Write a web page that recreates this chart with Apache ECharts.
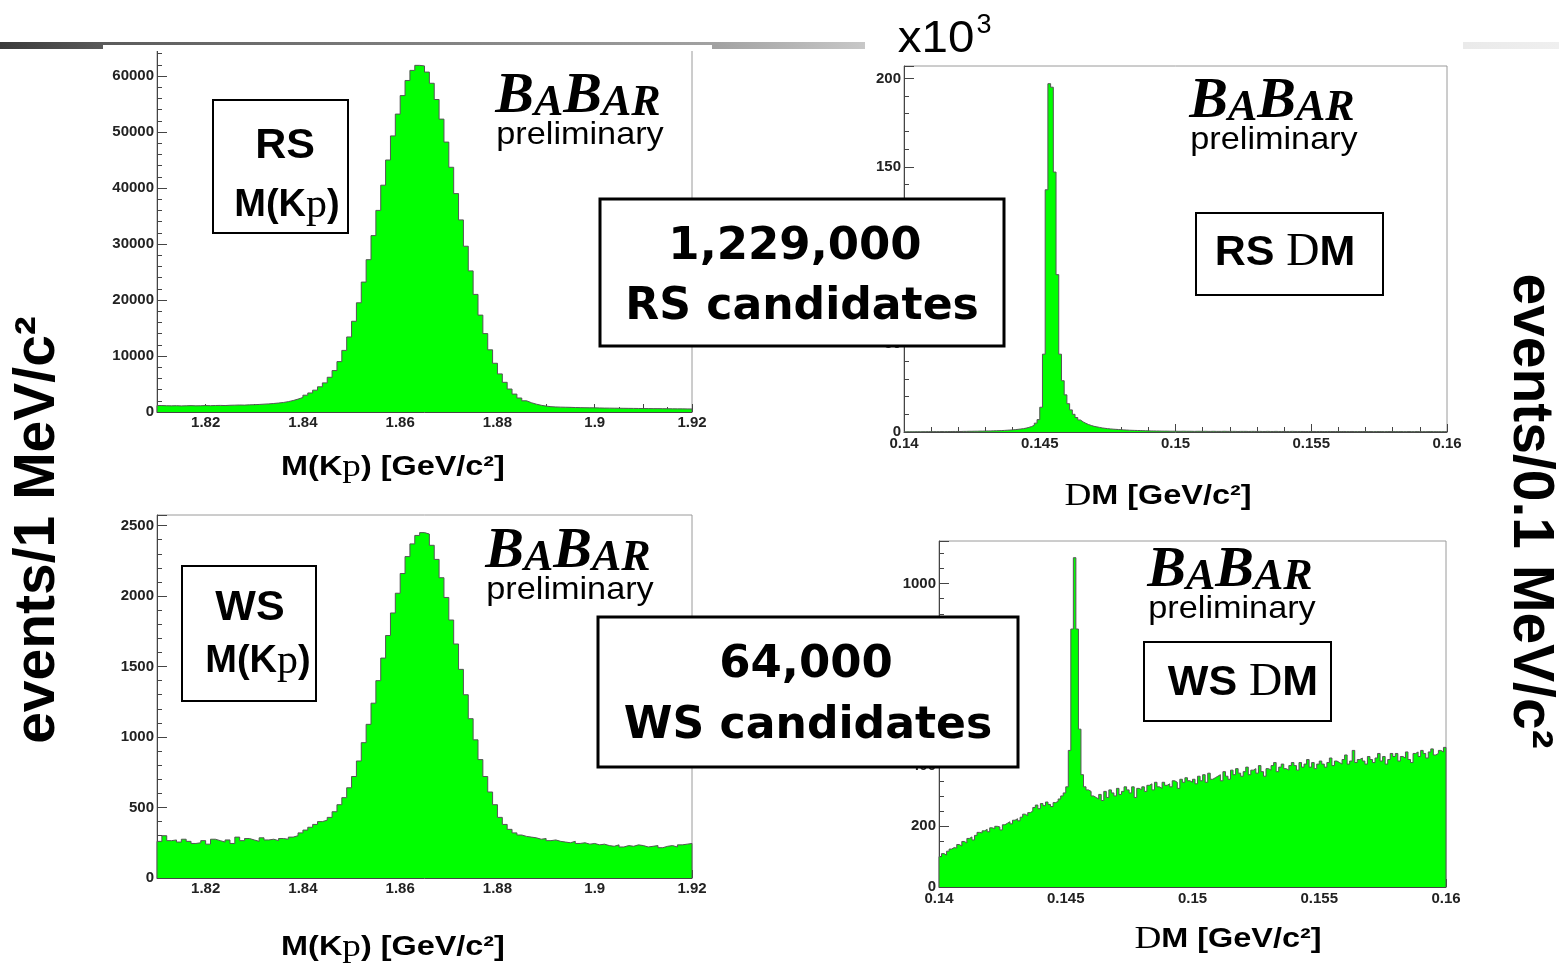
<!DOCTYPE html>
<html><head><meta charset="utf-8">
<script src="https://cdn.jsdelivr.net/npm/echarts@6/dist/echarts.min.js"></script>
<style>html,body{margin:0;padding:0;background:#fff}#c{width:1559px;height:970px}</style>
</head><body><div id="c"></div>
<script>
// ---------- data ----------
const MASS_MIN = 1.81, MASS_MAX = 1.92, MASS_BIN = 0.001;
const DM_MIN = 0.14, DM_MAX = 0.16, DM_BIN = 0.0001;
const massTickLabels = [1.82, 1.84, 1.86, 1.88, 1.9, 1.92];
const dmTickLabels = [0.14, 0.145, 0.15, 0.155, 0.16];

// RS M(K pi), events / 1 MeV
const rsMass = [
 1150,1120,1100,1130,1090,1110,1140,1100,1120,1150,
 1130,1160,1180,1150,1200,1220,1250,1230,1280,1300,
 1350,1400,1450,1520,1600,1700,1850,2050,2300,2600,
 3000,3400,3900,4500,5200,6200,7400,9000,11000,13400,
 16200,19500,23200,27200,31500,36000,40500,45000,49300,53200,
 56500,59200,61000,61900,61800,60700,58700,55800,52300,48200,
 43700,39000,34300,29600,25200,21000,17300,14000,11100,8700,
 6800,5300,4100,3200,2500,2000,1650,1400,1200,1050,
 950,900,870,850,830,800,780,760,750,740,
 720,700,690,680,670,660,650,640,630,620,
 610,600,600,590,580,570,560,560,550,540
];
// WS M(K pi), events / 1 MeV
const wsMass = [
 260,300,265,270,255,275,260,245,250,265,
 240,275,265,255,270,245,290,265,280,270,
 260,285,270,275,265,280,275,290,300,320,
 340,360,380,400,410,430,470,520,570,640,
 720,830,960,1090,1240,1400,1560,1720,1880,2020,
 2160,2280,2370,2430,2450,2440,2360,2260,2130,1990,
 1830,1660,1480,1300,1130,980,840,720,610,520,
 430,380,345,320,305,295,290,285,275,280,
 265,270,260,255,250,260,245,250,240,245,
 235,240,230,225,235,220,230,225,235,230,
 220,225,230,215,225,230,220,235,240,245
];
// RS Delta M, events / 0.1 MeV (x10^3)
const rsDeltaM = [
 0.1,0.1,0.1,0.1,0.15,0.1,0.15,0.15,0.2,0.15,
 0.2,0.2,0.2,0.25,0.2,0.25,0.25,0.3,0.3,0.3,
 0.3,0.35,0.35,0.4,0.4,0.45,0.45,0.5,0.5,0.55,
 0.6,0.6,0.65,0.7,0.75,0.8,0.9,1.0,1.1,1.2,
 1.35,1.5,1.7,1.9,2.2,2.6,3.1,3.8,5.0,7.0,
 14,44,137,197,195,147,89,44,29,21,
 16,12.5,10,8.2,6.8,5.7,4.9,4.2,3.7,3.2,
 2.9,2.6,2.3,2.1,1.9,1.75,1.6,1.5,1.4,1.3,
 1.2,1.1,1.0,0.95,0.9,0.85,0.8,0.75,0.7,0.65,
 0.6,0.6,0.55,0.55,0.5,0.5,0.5,0.45,0.45,0.45,
 0.4,0.4,0.45,0.4,0.4,0.4,0.35,0.4,0.4,0.35,
 0.4,0.35,0.35,0.4,0.35,0.35,0.35,0.4,0.35,0.35,
 0.35,0.35,0.3,0.35,0.35,0.35,0.3,0.35,0.35,0.3,
 0.35,0.3,0.3,0.35,0.3,0.3,0.35,0.3,0.3,0.3,
 0.3,0.3,0.35,0.3,0.3,0.3,0.3,0.25,0.3,0.3,
 0.3,0.25,0.3,0.3,0.25,0.3,0.3,0.25,0.3,0.25,
 0.25,0.3,0.25,0.25,0.3,0.25,0.25,0.25,0.3,0.25,
 0.25,0.25,0.2,0.25,0.25,0.25,0.2,0.25,0.25,0.2,
 0.25,0.2,0.25,0.2,0.2,0.25,0.2,0.2,0.25,0.2,
 0.2,0.2,0.2,0.25,0.2,0.2,0.2,0.15,0.2,0.2
];
// WS Delta M, events / 0.1 MeV
const wsDeltaM = [
 100,110,105,118,125,130,128,140,135,150,
 145,160,165,155,170,180,178,185,190,182,
 195,192,200,198,188,205,210,215,208,220,
 225,218,230,240,235,245,250,262,270,258,
 275,268,280,272,265,278,282,290,300,310,
 330,450,850,1085,850,520,370,330,320,315,
 300,295,290,305,285,315,295,320,310,300,
 325,305,315,330,320,310,330,295,325,320,
 330,315,335,340,320,345,330,325,345,335,
 340,330,350,345,325,355,345,360,350,345,
 355,340,365,350,370,345,375,355,360,365,
 370,350,380,365,355,385,370,390,375,365,
 380,395,370,385,390,375,400,380,365,390,
 385,400,410,380,395,405,390,385,400,410,
 400,385,410,395,405,420,395,410,390,405,
 415,405,395,410,425,400,415,410,405,420,
 435,405,415,450,410,420,425,415,405,430,
 420,410,425,440,415,430,405,420,440,430,
 440,415,430,425,445,420,410,440,445,430,
 450,440,425,445,455,435,440,450,445,460
];

// ---------- helpers ----------
function steps(vals, x0, w) {
  const pts = [[x0, 0]];
  vals.forEach((v, i) => pts.push([x0 + i * w, v]));
  const xe = x0 + vals.length * w;
  pts.push([xe, vals[vals.length - 1]]);
  pts.push([xe, 0]);
  return pts;
}
const labelFont = {fontFamily: 'Liberation Sans', fontWeight: 'bold', fontSize: 15, color: '#222'};
const axisCol = '#444';

function massX(gi) {
  return {
    type: 'value', gridIndex: gi, min: MASS_MIN, max: MASS_MAX, interval: 0.01,
    axisLine: {show: true, onZero: false, lineStyle: {color: axisCol, width: 1}},
    axisTick: {show: true, inside: true, length: 8, lineStyle: {color: axisCol}},
    minorTick: {show: true, splitNumber: 2, length: 5, lineStyle: {color: axisCol}},
    splitLine: {show: false}, minorSplitLine: {show: false},
    axisLabel: Object.assign({margin: 3, showMinLabel: true, showMaxLabel: true,
      formatter: v => massTickLabels.some(t => Math.abs(t - v) < 1e-6) ? String(+v.toFixed(3)) : ''}, labelFont)
  };
}
function dmX(gi) {
  return {
    type: 'value', gridIndex: gi, min: DM_MIN, max: DM_MAX, interval: 0.005,
    axisLine: {show: true, onZero: false, lineStyle: {color: axisCol, width: 1}},
    axisTick: {show: true, inside: true, length: 8, lineStyle: {color: axisCol}},
    minorTick: {show: true, splitNumber: 5, length: 5, lineStyle: {color: axisCol}},
    splitLine: {show: false}, minorSplitLine: {show: false},
    axisLabel: Object.assign({margin: 4, showMinLabel: true, showMaxLabel: true,
      formatter: v => dmTickLabels.some(t => Math.abs(t - v) < 1e-7) ? String(+v.toFixed(4)) : ''}, labelFont)
  };
}
function yAx(gi, max, interval, minorSplit) {
  return {
    type: 'value', gridIndex: gi, min: 0, max: max, interval: interval,
    axisLine: {show: true, onZero: false, lineStyle: {color: axisCol, width: 1}},
    axisTick: {show: true, inside: true, length: 10, lineStyle: {color: axisCol}},
    minorTick: {show: true, splitNumber: minorSplit, length: 5, lineStyle: {color: axisCol}},
    splitLine: {show: false}, minorSplitLine: {show: false},
    axisLabel: Object.assign({margin: 3, showMaxLabel: false, formatter: v => String(v)}, labelFont)
  };
}
function hist(gi, data) {
  return {
    type: 'line', xAxisIndex: gi, yAxisIndex: gi, data: data, step: 'end',
    symbol: 'none', showSymbol: false, clip: true, animation: false,
    lineStyle: {color: '#555', width: 1},
    areaStyle: {color: '#00ff00', opacity: 1}
  };
}

// ---------- graphic ----------
const G = [];
G.push({type: 'rect', z: 1, shape: {x: 0, y: 42, width: 1559, height: 7},
  style: {fill: {type: 'linear', x: 0, y: 0, x2: 1, y2: 0, colorStops: [
    {offset: 0, color: '#3a3a3a'}, {offset: 0.07, color: '#5c5c5c'},
    {offset: 0.46, color: '#a2a2a2'}, {offset: 0.56, color: '#cacaca'},
    {offset: 1, color: '#efefef'}]}}});
G.push({type: 'rect', z: 2, shape: {x: 103, y: 45, width: 609, height: 6}, style: {fill: '#fff'}});
G.push({type: 'rect', z: 2, shape: {x: 865, y: 30, width: 598, height: 22}, style: {fill: '#fff'}});

function tx(x, y, text, size, o) {
  o = o || {};
  return {type: 'text', x: x, y: y, z: 120, rotation: o.rot || 0, scaleX: o.sx || 1,
    style: {text: text, fill: '#000', fontSize: size, fontFamily: o.family || 'Liberation Sans',
      fontWeight: o.weight || 'bold', fontStyle: o.fstyle || 'normal',
      align: 'center', verticalAlign: 'middle', rich: o.rich}};
}
function box(x, y, w, h, lw) {
  return {type: 'rect', z: 110, shape: {x: x, y: y, width: w, height: h},
    style: {fill: '#fff', stroke: '#000', lineWidth: lw}};
}
function richMix(bs, ps) {
  return {
    b: {fontSize: bs, fontFamily: 'Liberation Sans', fontWeight: 'bold', fill: '#000'},
    p: {fontSize: ps, fontFamily: 'Liberation Serif', fontWeight: 'normal', fill: '#000'}
  };
}
const babarRich = {
  B: {fontSize: 58, fontFamily: 'Liberation Serif', fontWeight: 'bold', fontStyle: 'italic', fill: '#000', verticalAlign: 'bottom'},
  A: {fontSize: 44, fontFamily: 'Liberation Serif', fontWeight: 'bold', fontStyle: 'italic', fill: '#000', verticalAlign: 'bottom'}
};
function babar(x, y) {
  G.push(tx(x, y, '{B|B}{A|A}{B|B}{A|AR}', 58, {rich: babarRich}));
  G.push(tx(x + 2, y + 38, 'preliminary', 32, {weight: 'normal', sx: 1.07}));
}
babar(578, 97);
babar(1272, 102);
babar(568, 552);
babar(1230, 571);

// axis titles
G.push(tx(393, 468, '{b|M(K}{p|p}{b|) [GeV/c²]}', 27, {rich: richMix(27, 31), sx: 1.2}));
G.push(tx(393, 948, '{b|M(K}{p|p}{b|) [GeV/c²]}', 27, {rich: richMix(27, 31), sx: 1.2}));
G.push(tx(1158, 497, '{p|D}{b|M [GeV/c²]}', 27, {rich: richMix(27, 31), sx: 1.2}));
G.push(tx(1228, 940, '{p|D}{b|M [GeV/c²]}', 27, {rich: richMix(27, 31), sx: 1.2}));
G.push(tx(38, 530, 'events/1 MeV/c²', 57, {rot: Math.PI / 2}));
G.push(tx(1530, 511, 'events/0.1 MeV/c²', 57, {rot: -Math.PI / 2}));

// x10^3
G.push(tx(936, 40, 'x10', 44, {weight: 'normal', sx: 1.08}));
G.push(tx(984, 26, '3', 27, {weight: 'normal'}));

// boxes
G.push(box(213, 100, 135, 133, 2));
G.push(tx(285, 146, 'RS', 43));
G.push(tx(287, 206, '{b|M(K}{p|p}{b|)}', 38, {rich: richMix(38, 42)}));

G.push(box(182, 566, 134, 135, 2));
G.push(tx(250, 608, 'WS', 43));
G.push(tx(258, 662, '{b|M(K}{p|p}{b|)}', 38, {rich: richMix(38, 42)}));

G.push(box(1196, 213, 187, 82, 2));
G.push(tx(1285, 253, '{b|RS }{p|D}{b|M}', 43, {rich: richMix(43, 46)}));

G.push(box(1144, 642, 187, 79, 2));
G.push(tx(1243, 683, '{b|WS }{p|D}{b|M}', 43, {rich: richMix(43, 46)}));

G.push(box(600, 199, 404, 147, 3));
G.push(tx(795, 247, '1,229,000', 45, {family: 'DejaVu Sans'}));
G.push(tx(802, 307, 'RS candidates', 45, {family: 'DejaVu Sans', sx: 0.98}));

G.push(box(598, 617, 420, 150, 3));
G.push(tx(806, 665, '64,000', 45, {family: 'DejaVu Sans'}));
G.push(tx(808, 726, 'WS candidates', 45, {family: 'DejaVu Sans', sx: 0.98}));

// ---------- chart ----------
const chart = echarts.init(document.getElementById('c'), null, {renderer: 'canvas'});
const gridStyle = {show: true, borderColor: '#9a9a9a', borderWidth: 1, backgroundColor: 'transparent', containLabel: false};
chart.setOption({
  animation: false,
  backgroundColor: '#fff',
  textStyle: {fontFamily: 'Liberation Sans'},
  grid: [
    Object.assign({left: 157, top: 48, width: 535, height: 364}, gridStyle),
    Object.assign({left: 904, top: 66, width: 543, height: 366}, gridStyle),
    Object.assign({left: 157, top: 515, width: 535, height: 363}, gridStyle),
    Object.assign({left: 939, top: 541, width: 507, height: 346}, gridStyle)
  ],
  xAxis: [massX(0), dmX(1), massX(2), dmX(3)],
  yAxis: [yAx(0, 65000, 10000, 5), yAx(1, 207, 50, 5), yAx(2, 2575, 500, 5), yAx(3, 1140, 200, 4)],
  series: [
    hist(0, steps(rsMass, MASS_MIN, MASS_BIN)),
    hist(1, steps(rsDeltaM, DM_MIN, DM_BIN)),
    hist(2, steps(wsMass, MASS_MIN, MASS_BIN)),
    hist(3, steps(wsDeltaM, DM_MIN, DM_BIN))
  ],
  graphic: {elements: G}
});
</script>
</body></html>
